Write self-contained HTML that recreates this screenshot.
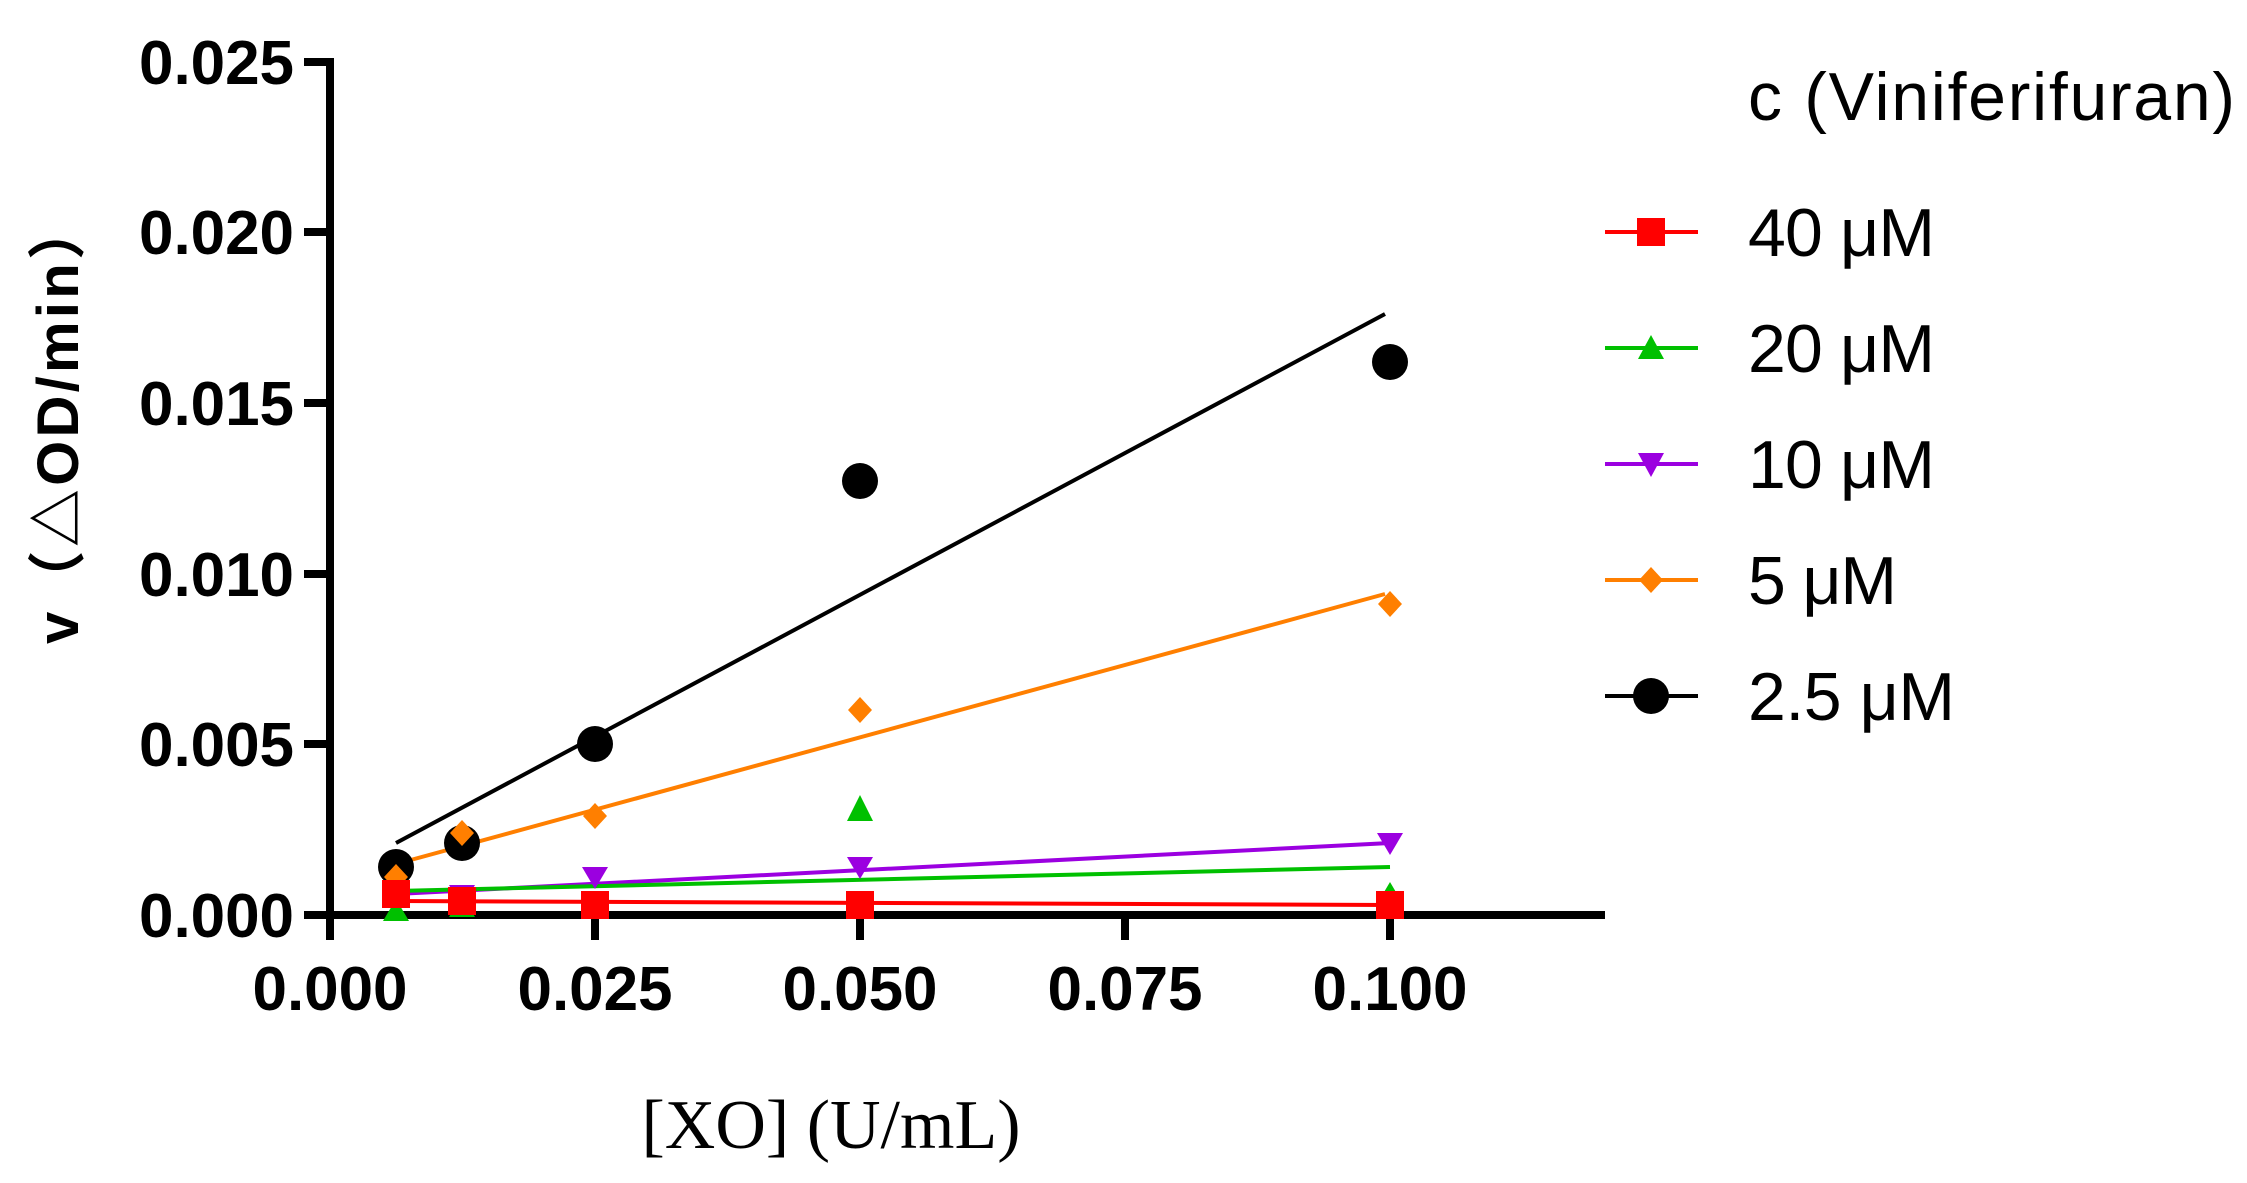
<!DOCTYPE html>
<html><head><meta charset="utf-8"><style>
html,body{margin:0;padding:0;background:#fff;}
svg{display:block;}
</style></head><body>
<svg width="2247" height="1183" viewBox="0 0 2247 1183" xmlns="http://www.w3.org/2000/svg">
<g stroke="#000" stroke-width="8" fill="none">
<line x1="330" y1="58" x2="330" y2="940"/>
<line x1="326" y1="915" x2="1605" y2="915"/>
<line x1="304" y1="62" x2="330" y2="62"/>
<line x1="304" y1="232" x2="330" y2="232"/>
<line x1="304" y1="403" x2="330" y2="403"/>
<line x1="304" y1="574" x2="330" y2="574"/>
<line x1="304" y1="744" x2="330" y2="744"/>
<line x1="304" y1="915" x2="330" y2="915"/>
<line x1="595" y1="915" x2="595" y2="940"/>
<line x1="860" y1="915" x2="860" y2="940"/>
<line x1="1125" y1="915" x2="1125" y2="940"/>
<line x1="1390" y1="915" x2="1390" y2="940"/>
</g>
<g font-family="Liberation Sans, sans-serif" font-weight="bold" font-size="62" fill="#000" text-anchor="end">
<text x="294" y="84" textLength="155">0.025</text>
<text x="294" y="254" textLength="155">0.020</text>
<text x="294" y="425" textLength="155">0.015</text>
<text x="294" y="596" textLength="155">0.010</text>
<text x="294" y="766" textLength="155">0.005</text>
<text x="294" y="937" textLength="155">0.000</text>
</g>
<g font-family="Liberation Sans, sans-serif" font-weight="bold" font-size="62" fill="#000" text-anchor="middle">
<text x="330" y="1010" textLength="155">0.000</text>
<text x="595" y="1010" textLength="155">0.025</text>
<text x="860" y="1010" textLength="155">0.050</text>
<text x="1125" y="1010" textLength="155">0.075</text>
<text x="1390" y="1010" textLength="155">0.100</text>
</g>
<text x="831" y="1148" font-family="Liberation Serif, serif" font-size="70" text-anchor="middle" fill="#000">[XO] (U/mL)</text>
<text transform="translate(78,419) rotate(-90)" font-family="Liberation Sans, 'Noto Sans CJK SC', sans-serif" font-weight="bold" font-size="58" letter-spacing="8" text-anchor="middle" fill="#000" textLength="450">v（△OD/min）</text>

<g stroke-width="4" fill="none">
<line x1="396" y1="843" x2="1385" y2="314" stroke="#000"/>
<line x1="396" y1="864" x2="1385" y2="594" stroke="#ff7f00"/>
<line x1="396" y1="894" x2="1390" y2="843" stroke="#9b00e0"/>
<line x1="396" y1="891" x2="1390" y2="867" stroke="#00c000"/>
<line x1="396" y1="901" x2="1390" y2="905" stroke="#ff0000"/>
</g>
<g fill="#000">
<circle cx="396" cy="867" r="18"/><circle cx="462" cy="843" r="18"/><circle cx="595" cy="744" r="18"/><circle cx="860" cy="481" r="18"/><circle cx="1390" cy="362" r="18"/>
</g>
<g fill="#ff7f00">
<polygon points="396,864 408,877 396,890 384,877"/>
<polygon points="462,820 474,833 462,846 450,833"/>
<polygon points="595,803 607,816 595,829 583,816"/>
<polygon points="860,697 872,710 860,723 848,710"/>
<polygon points="1390,591 1402,604 1390,617 1378,604"/>
</g>
<g fill="#9b00e0">
<polygon points="383,885 409,885 396,907"/>
<polygon points="449,885 475,885 462,907"/>
<polygon points="582,867 608,867 595,889"/>
<polygon points="847,857 873,857 860,879"/>
<polygon points="1377,833 1403,833 1390,855"/>
</g>
<g fill="#00c000">
<polygon points="396,899 409,921 383,921"/>
<polygon points="462,895 475,917 449,917"/>
<polygon points="860,795 873,821 847,821"/>
<polygon points="1390,882 1403,904 1377,904"/>
</g>
<g fill="#ff0000">
<rect x="382" y="880" width="28" height="28"/>
<rect x="448" y="887" width="28" height="28"/>
<rect x="581" y="891" width="28" height="28"/>
<rect x="846" y="891" width="28" height="28"/>
<rect x="1376" y="891" width="28" height="28"/>
</g>

<text x="1748" y="120" font-family="Liberation Sans, sans-serif" font-size="68" fill="#000" textLength="487">c (Viniferifuran)</text>
<g stroke-width="4">
<line x1="1605" y1="232" x2="1698" y2="232" stroke="#ff0000"/>
<line x1="1605" y1="348" x2="1698" y2="348" stroke="#00c000"/>
<line x1="1605" y1="464" x2="1698" y2="464" stroke="#9b00e0"/>
<line x1="1605" y1="580" x2="1698" y2="580" stroke="#ff7f00"/>
<line x1="1605" y1="696" x2="1698" y2="696" stroke="#000"/>
</g>
<rect x="1637" y="218" width="28" height="28" fill="#ff0000"/>
<polygon points="1651,335 1664,359 1638,359" fill="#00c000"/>
<polygon points="1638,453 1664,453 1651,477" fill="#9b00e0"/>
<polygon points="1651,567 1663,580 1651,593 1639,580" fill="#ff7f00"/>
<circle cx="1651" cy="696" r="18" fill="#000"/>
<g font-family="Liberation Sans, sans-serif" font-size="68" fill="#000">
<text x="1748" y="256" textLength="187">40 μM</text>
<text x="1748" y="372" textLength="187">20 μM</text>
<text x="1748" y="488" textLength="187">10 μM</text>
<text x="1748" y="604" textLength="149">5 μM</text>
<text x="1748" y="720" textLength="207">2.5 μM</text>
</g>
</svg>
</body></html>
